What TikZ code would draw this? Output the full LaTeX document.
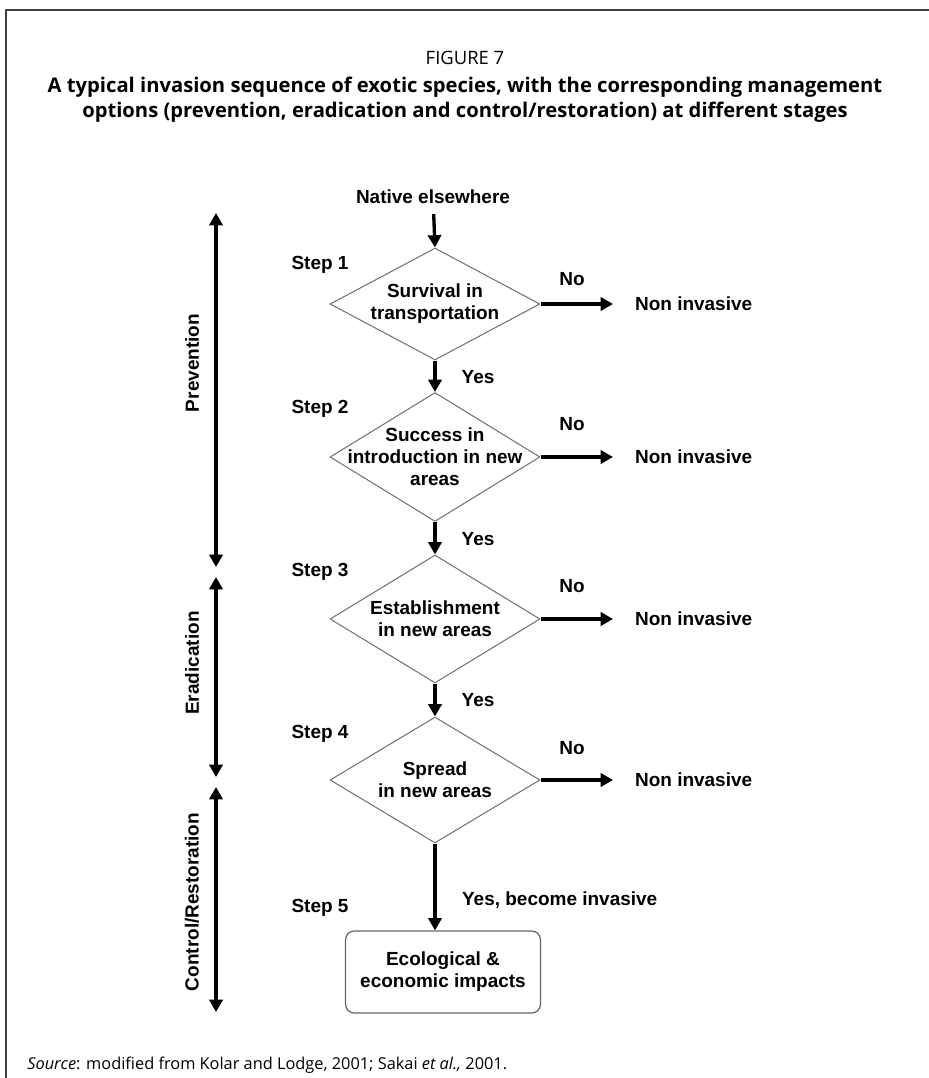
\documentclass[tikz,border=0pt]{standalone}
\usepackage{fontspec}
\setmainfont{Open Sans}
\newfontfamily\arialfont{Liberation Sans}
\usetikzlibrary{shapes.geometric,arrows.meta}

\begin{document}
\begin{tikzpicture}[x=0.02cm, y=-0.02cm, line join=round, >={Triangle[length=7pt,width=7.5pt]},
	box/.style={font=\arialfont\bfseries\fontsize{10.8}{12.6}\selectfont, align=center, inner sep=1pt},
	dia/.style={diamond, draw=black!55, line width=0.6pt, minimum width=4.2cm, inner sep=0pt},
	arr/.style={->, line width=1.9pt}]
	\useasboundingbox (0,0) rectangle (929,1078);
	\draw[black!75, line width=1.2pt] (929,10) -- (6,10) -- (6,1078);
	% title
	\node[font=\fontsize{10.5}{12}\selectfont] (fig) at (465,58) {FIGURE 7};
	\node[font=\bfseries\fontsize{11.5}{14.2}\selectfont, align=center] (title) at (465,100)
		{A typical invasion sequence of exotic species, with the corresponding management\\
		options (prevention, eradication and control/restoration) at different stages};
	\node[font=\fontsize{9.3}{11}\selectfont, anchor=west, inner sep=0pt] (src) at (27,1065)
		{\textit{Source}: modified from Kolar and Lodge, 2001; Sakai \textit{et al.,} 2001.};
	% flow chart
	\node[box] (native) at (433,197) {Native elsewhere};
	\foreach \i/\y/\h/\txt in {1/304/2.24/{Survival in\\transportation},
		2/457/2.58/{Success in\\introduction in new\\areas},
		3/619/2.56/{Establishment\\in new areas},
		4/780/2.52/{Spread\\in new areas}} {
		\node[dia, minimum height=\h cm] (d\i) at (435,\y) {};
		\node[box] (t\i) at (d\i) {\txt};
		\node[box, anchor=west] (n\i) at (633,\y) {Non invasive};
		\node[box] (no\i) at ([shift={(137,32)}]d\i.north) {No};
		\node[box] (s\i) at ([shift={(-115,17)}]d\i.north) {Step \i};
		\draw[arr, shorten >=0.4cm] (d\i.east) -- (n\i.west);
	}
	\draw[arr, shorten <=0.16cm] (native) -- (d1.north);
	\foreach \i/\j in {1/2,2/3,3/4} {
		\node[box] (y\i) at ([shift={(43,17)}]d\i.south) {Yes};
		\draw[arr] (d\i.south) -- (d\j.north);
	}
	\node[box, draw=black!60, line width=0.7pt, rounded corners=5pt, minimum width=3.9cm, minimum height=1.64cm] (eco) at (443,972) {Ecological \&\\economic impacts};
	\node[box] (s5) at (320,908) {Step 5};
	\node[box, anchor=west] (inv) at (460,900) {Yes, become invasive};
	\draw[arr] (d4.south) -- (d4.south |- eco.north);
	% management options
	\coordinate (pv1) at (216,213);
	\coordinate (pv2) at (216,567);
	\coordinate (er1) at (216,577);
	\coordinate (er2) at (216,777);
	\coordinate (cr1) at (216,787);
	\coordinate (cr2) at (216,1012);
	\draw[arr, <->] (pv1) -- (pv2);
	\draw[arr, <->] (er1) -- (er2);
	\draw[arr, <->] (cr1) -- (cr2);
	\node[box, rotate=90] (prev) at (192,363) {Prevention};
	\node[box, rotate=90] (erad) at (192,663) {Eradication};
	\node[box, rotate=90] (ctrl) at (192,902) {Control/Restoration};
\end{tikzpicture}
\end{document}
